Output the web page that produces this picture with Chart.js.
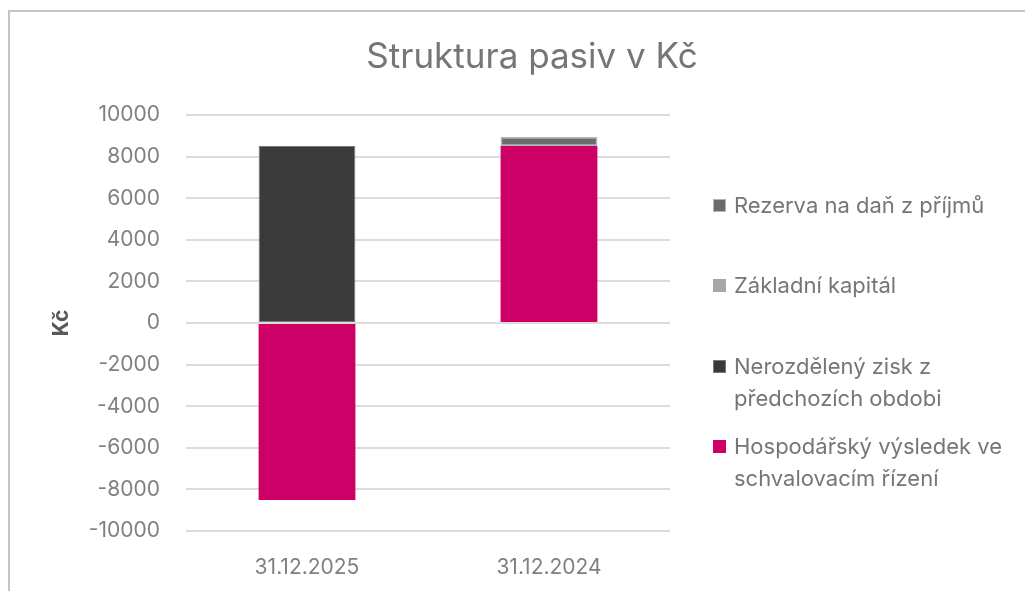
<!DOCTYPE html>
<html>
<head>
<meta charset="utf-8">
<script src="https://cdn.jsdelivr.net/npm/chart.js@4/dist/chart.umd.min.js"></script>
<style>
  html, body { margin: 0; padding: 0; background: #ffffff; }
  #wrap { position: relative; width: 1025px; height: 591px; overflow: hidden; }
  #frame { position: absolute; left: 8px; top: 10px; width: 1040px; height: 620px;
           border-top: 2px solid #c4c4c4; border-left: 2px solid #c4c4c4; box-sizing: border-box; }
  #chart { position: absolute; left: 0; top: 0; }
  #title { position: absolute; left: 0; top: 35px; width: 1064px; text-align: center;
           font-family: Inter, "Open Sans", sans-serif; font-size: 35px; line-height: 40px;
           color: #767676; font-weight: 400; }
  #legend { position: absolute; left: 713px; top: 0; font-family: Inter, "Open Sans", sans-serif;
            font-size: 22px; color: #767676; }
  .item { position: absolute; left: 0; display: flex; align-items: flex-start; white-space: pre; line-height: 32px; }
  .box { width: 13px; height: 13px; margin-right: 8px; margin-top: 10px; box-sizing: border-box; flex: none; }
</style>
</head>
<body>
<div id="wrap">
  <div id="frame"></div>
  <canvas id="chart" width="1025" height="591"></canvas>
  <div id="title">Struktura pasiv v Kč</div>
  <div id="legend"></div>
</div>
<script>
// ---- data ----
const categories = ['31.12.2025', '31.12.2024'];
const seriesNames = [
  'Hospodářský výsledek ve\nschvalovacím řízení',
  'Nerozdělený zisk z\npředchozích obdobi',
  'Základní kapitál',
  'Rezerva na daň z příjmů'
];
const hospodarskyVysledek = [-8510, 8510];
const nerozdelenyZisk = [8510, 0];
const zakladniKapital = [0, 0];
const rezervaNaDan = [0, 430];
const yMin = -10000;
const yMax = 10000;
const yStep = 2000;

// ---- styles ----
const seriesColors = ['#cc0066', '#3a3a3a', '#aaa6a6', '#6b6b6b'];
const seriesBorders = ['#cc0066', '#7a7a7a', '#aaa6a6', '#b4b4b4'];
const seriesBorderWidths = [0, 1, 0, 1.5];
const seriesValues = [hospodarskyVysledek, nerozdelenyZisk, zakladniKapital, rezervaNaDan];

Chart.defaults.font.family = 'Inter, "Open Sans", sans-serif';

const datasets = seriesNames.map((name, i) => ({
  label: name,
  data: seriesValues[i],
  backgroundColor: seriesColors[i],
  borderColor: seriesBorders[i],
  borderWidth: seriesBorderWidths[i],
  borderSkipped: false,
  barPercentage: 0.4,
  categoryPercentage: 1.0
}));

const chart = new Chart(document.getElementById('chart'), {
  type: 'bar',
  data: { labels: categories, datasets: datasets },
  options: {
    responsive: false,
    animation: false,
    devicePixelRatio: 1,
    layout: { padding: { left: 0, right: 355, top: 115, bottom: 0 } },
    plugins: {
      legend: { display: false },
      tooltip: { enabled: false },
      title: { display: false }
    },
    scales: {
      x: {
        stacked: true,
        grid: { display: false, drawTicks: false },
        border: { display: false },
        ticks: { color: '#808080', font: { size: 21 }, padding: 24 },
        afterFit: (s) => { s.height = 60; }
      },
      y: {
        stacked: true,
        min: yMin,
        max: yMax,
        ticks: {
          stepSize: yStep, color: '#808080', font: { size: 21 }, padding: 26,
          callback: (v) => String(v)
        },
        grid: { color: '#dcdcdc', lineWidth: 2, drawTicks: false },
        border: { display: false },
        title: {
          display: true,
          text: 'Kč',
          color: '#595959',
          font: { size: 21, weight: 'bold' },
          padding: { top: 49, bottom: 0 }
        },
        afterFit: (s) => { s.width = 186; }
      }
    }
  }
});

// ---- legend (reversed like the reference) ----
const legendTops = [189, 269, 350, 430];
const legendEl = document.getElementById('legend');
const order = chart.data.datasets.map((d, i) => i).reverse();
order.forEach((dsIndex, k) => {
  const ds = chart.data.datasets[dsIndex];
  const item = document.createElement('div');
  item.className = 'item';
  item.style.top = legendTops[k] + 'px';
  const box = document.createElement('span');
  box.className = 'box';
  box.style.background = ds.backgroundColor;
  if (ds.borderWidth) box.style.border = '1px solid ' + ds.borderColor;
  const txt = document.createElement('span');
  txt.textContent = ds.label;
  item.appendChild(box);
  item.appendChild(txt);
  legendEl.appendChild(item);
});
</script>
</body>
</html>
